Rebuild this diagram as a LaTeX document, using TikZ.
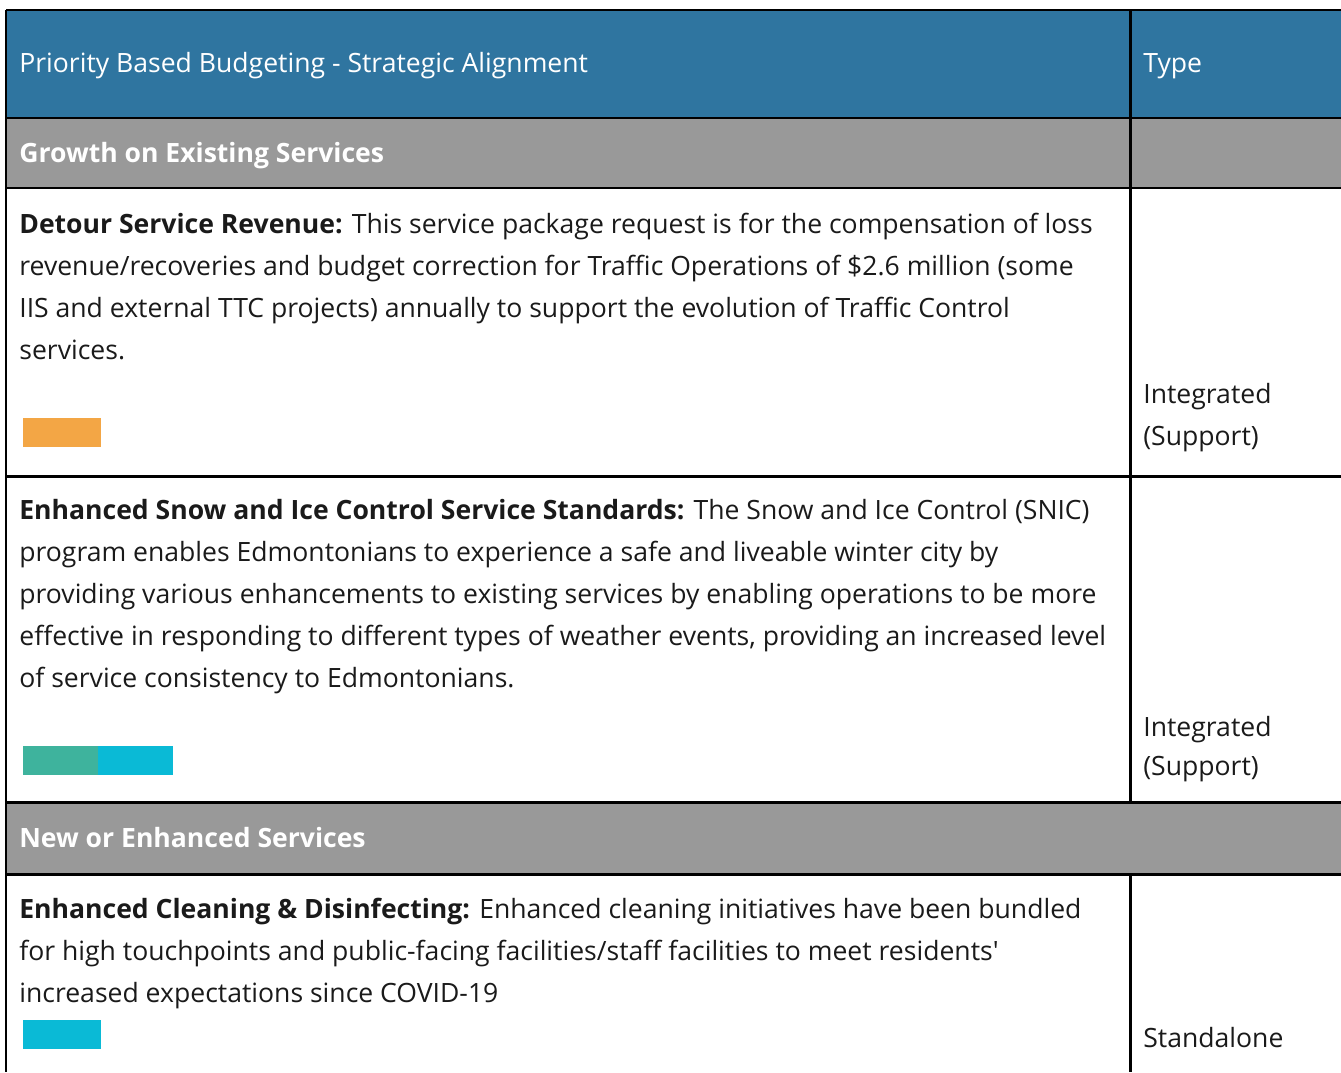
\documentclass[tikz,border=0pt]{standalone}
\usepackage{fontspec}
\setmainfont{Open Sans}
\usetikzlibrary{positioning}
\definecolor{hdrblue}{RGB}{47,117,160}
\definecolor{grpgray}{RGB}{153,153,153}
\definecolor{barorange}{RGB}{243,166,69}
\definecolor{barteal}{RGB}{62,179,157}
\definecolor{barcyan}{RGB}{10,186,214}
\definecolor{bodytext}{RGB}{26,26,26}
\tikzset{
  cell/.style={anchor=base west, inner sep=0pt, align=left,
    font=\fontsize{15.12}{23.8}\selectfont, text=bodytext},
  hdrtext/.style={cell, text=white},
  grptext/.style={cell, text=white, font=\fontsize{15.12}{23.8}\selectfont\bfseries},
  bar/.style={anchor=north west, inner sep=0pt, minimum width=1.56cm, minimum height=0.58cm},
  rule/.style={line width=1.7pt},
}

\begin{document}
\begin{tikzpicture}[x=0.02cm, y=-0.02cm]
  \useasboundingbox (0,0) rectangle (1341,1072);
  \clip (0,0) rectangle (1341,1072);

  % shaded rows
  \fill [hdrblue] (6,10) rectangle (1341,118);
  \fill [grpgray] (6,118) rectangle (1341,188);
  \fill [grpgray] (6,802) rectangle (1341,874);

  % header
  \node [hdrtext] (hdr) at (19,72) {Priority Based Budgeting - Strategic Alignment};
  \node [hdrtext] (hdrtype) at (1143,72) {Type};

  % growth on existing services (multi-line cells sit on their last baseline)
  \node [grptext] (grpgrowth) at (19,162) {Growth on Existing Services};

  \node [cell] (detour) at (19,359) {\textbf{Detour Service Revenue:} This service package request is for the compensation of loss\\
    revenue/recoveries and budget correction for Traffic Operations of \$2.6 million (some\\
    IIS and external TTC projects) annually to support the evolution of Traffic Control\\
    services.};
  \node [bar, fill=barorange] (detourbar) at (23,418) {};
  \node [cell] (detourtype) at (1143,445) {Integrated\\(Support)};

  \node [cell] (snic) at (19,687) {\textbf{Enhanced Snow and Ice Control Service Standards:} The Snow and Ice Control (SNIC)\\
    program enables Edmontonians to experience a safe and liveable winter city by\\
    providing various enhancements to existing services by enabling operations to be more\\
    effective in responding to different types of weather events, providing an increased level\\
    of service consistency to Edmontonians.};
  \node [bar, fill=barteal, minimum width=1.5cm] (snicbara) at (23,746) {};
  \node [bar, fill=barcyan, minimum width=1.5cm, right=-0.4pt of snicbara.north east, anchor=north west] (snicbarb) {};
  \node [cell] (snictype) at (1143,775) {Integrated\\[-2pt](Support)};

  % new or enhanced services
  \node [grptext] (grpnew) at (19,847) {New or Enhanced Services};

  \node [cell] (clean) at (19,1002) {\textbf{Enhanced Cleaning \& Disinfecting:} Enhanced cleaning initiatives have been bundled\\
    for high touchpoints and public-facing facilities/staff facilities to meet residents\textquotesingle\\
    increased expectations since COVID-19};
  \node [bar, fill=barcyan] (cleanbar) at (23,1020) {};
  \node [cell] (cleantype) at (1143,1047) {Standalone};

  % rules
  \draw [rule] (6,10) -- (1341,10);
  \draw [rule] (6,118) -- (1341,118);
  \draw [rule] (6,188) -- (1341,188);
  \draw [rule] (6,476) -- (1341,476);
  \draw [rule] (6,802) -- (1341,802);
  \draw [rule] (6,874) -- (1341,874);
  \draw [rule] (6,10) -- (6,1072);
  \draw [rule] (1130,10) -- (1130,802);
  \draw [rule] (1130,874) -- (1130,1072);
\end{tikzpicture}
\end{document}
